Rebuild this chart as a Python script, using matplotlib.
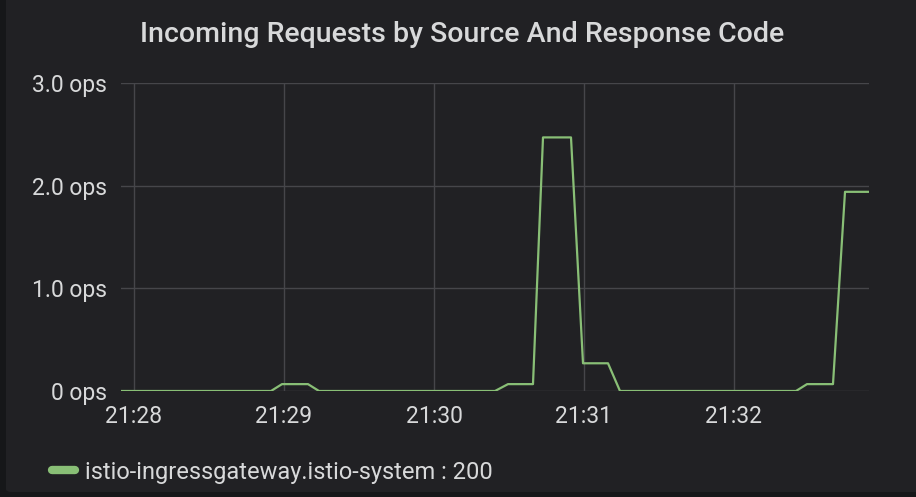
import datetime as dt

import matplotlib
matplotlib.use('Agg')
import matplotlib.dates as mdates
import matplotlib.pyplot as plt
from matplotlib.lines import Line2D
from matplotlib.patches import FancyBboxPatch

# seconds after 21:28:00 and request rate (ops)
seconds = [-5.2, 54.8, 59.2, 69.6, 74.0, 144.4, 149.6, 159.6, 163.6, 174.8,
           179.6, 189.6, 194.4, 264.8, 269.2, 279.6, 284.4, 294.0]
ops = [0, 0, 0.067, 0.067, 0, 0, 0.067, 0.067, 2.47, 2.47,
       0.27, 0.27, 0, 0, 0.067, 0.067, 1.94, 1.94]
series_label = 'istio-ingressgateway.istio-system : 200'
y_ticks = [0, 1, 2, 3]
y_tick_labels = ['0 ops', '1.0 ops', '2.0 ops', '3.0 ops']

outer_color = '#161719'
panel_color = '#212124'
text_color = '#d8d9da'
grid_color = '#46464a'
line_color = '#89bf76'

plt.rcParams['font.family'] = ['Roboto', 'DejaVu Sans']

base = dt.datetime(2019, 1, 1, 21, 28, 0)
times = [base + dt.timedelta(seconds=s) for s in seconds]

W, H = 916, 497
fig = plt.figure(figsize=(W / 100, H / 100), dpi=100, facecolor=outer_color)

panel = FancyBboxPatch((6 / W, 5 / H), (W - 6) / W + 0.01, (H - 5) / H + 0.01,
                       boxstyle='round,pad=0,rounding_size=0.006',
                       transform=fig.transFigure, facecolor=panel_color,
                       edgecolor='none', zorder=-10)
fig.patches.append(panel)

ax = fig.add_axes([121 / W, 1 - 391 / H, (869 - 121) / W, (391 - 83) / H])
ax.set_zorder(1)
ax.set_facecolor('none')

ax.plot(times, ops, color=line_color, lw=1.6, zorder=3)

ax.set_xlim(times[0], times[-1])
ax.set_ylim(0, 3)
ax.set_yticks(y_ticks)
ax.set_yticklabels(y_tick_labels)
ax.xaxis.set_major_locator(mdates.MinuteLocator())
ax.xaxis.set_major_formatter(mdates.DateFormatter('%H:%M'))

ax.grid(True, color=grid_color, lw=1)
ax.set_axisbelow(True)
for s in ax.spines.values():
    s.set_visible(False)
ax.tick_params(length=0, colors=text_color, labelsize=16.5)
ax.tick_params(axis='y', pad=10)
ax.tick_params(axis='x', pad=10)

fig.text(462 / W, 1 - 35 / H, 'Incoming Requests by Source And Response Code',
         ha='center', va='center', color=text_color, fontsize=20.5,
         fontweight='medium', zorder=2)

handle = Line2D([], [], color=line_color, lw=6, solid_capstyle='round')
leg = fig.legend(handles=[handle], labels=[series_label], loc='center left',
                 bbox_to_anchor=(31 / W, 1 - 472 / H), frameon=False,
                 labelcolor=text_color, fontsize=17, handlelength=0.95,
                 handletextpad=0.45)
leg.set_zorder(2)

fig.savefig('out.png', dpi=100, facecolor=outer_color)
